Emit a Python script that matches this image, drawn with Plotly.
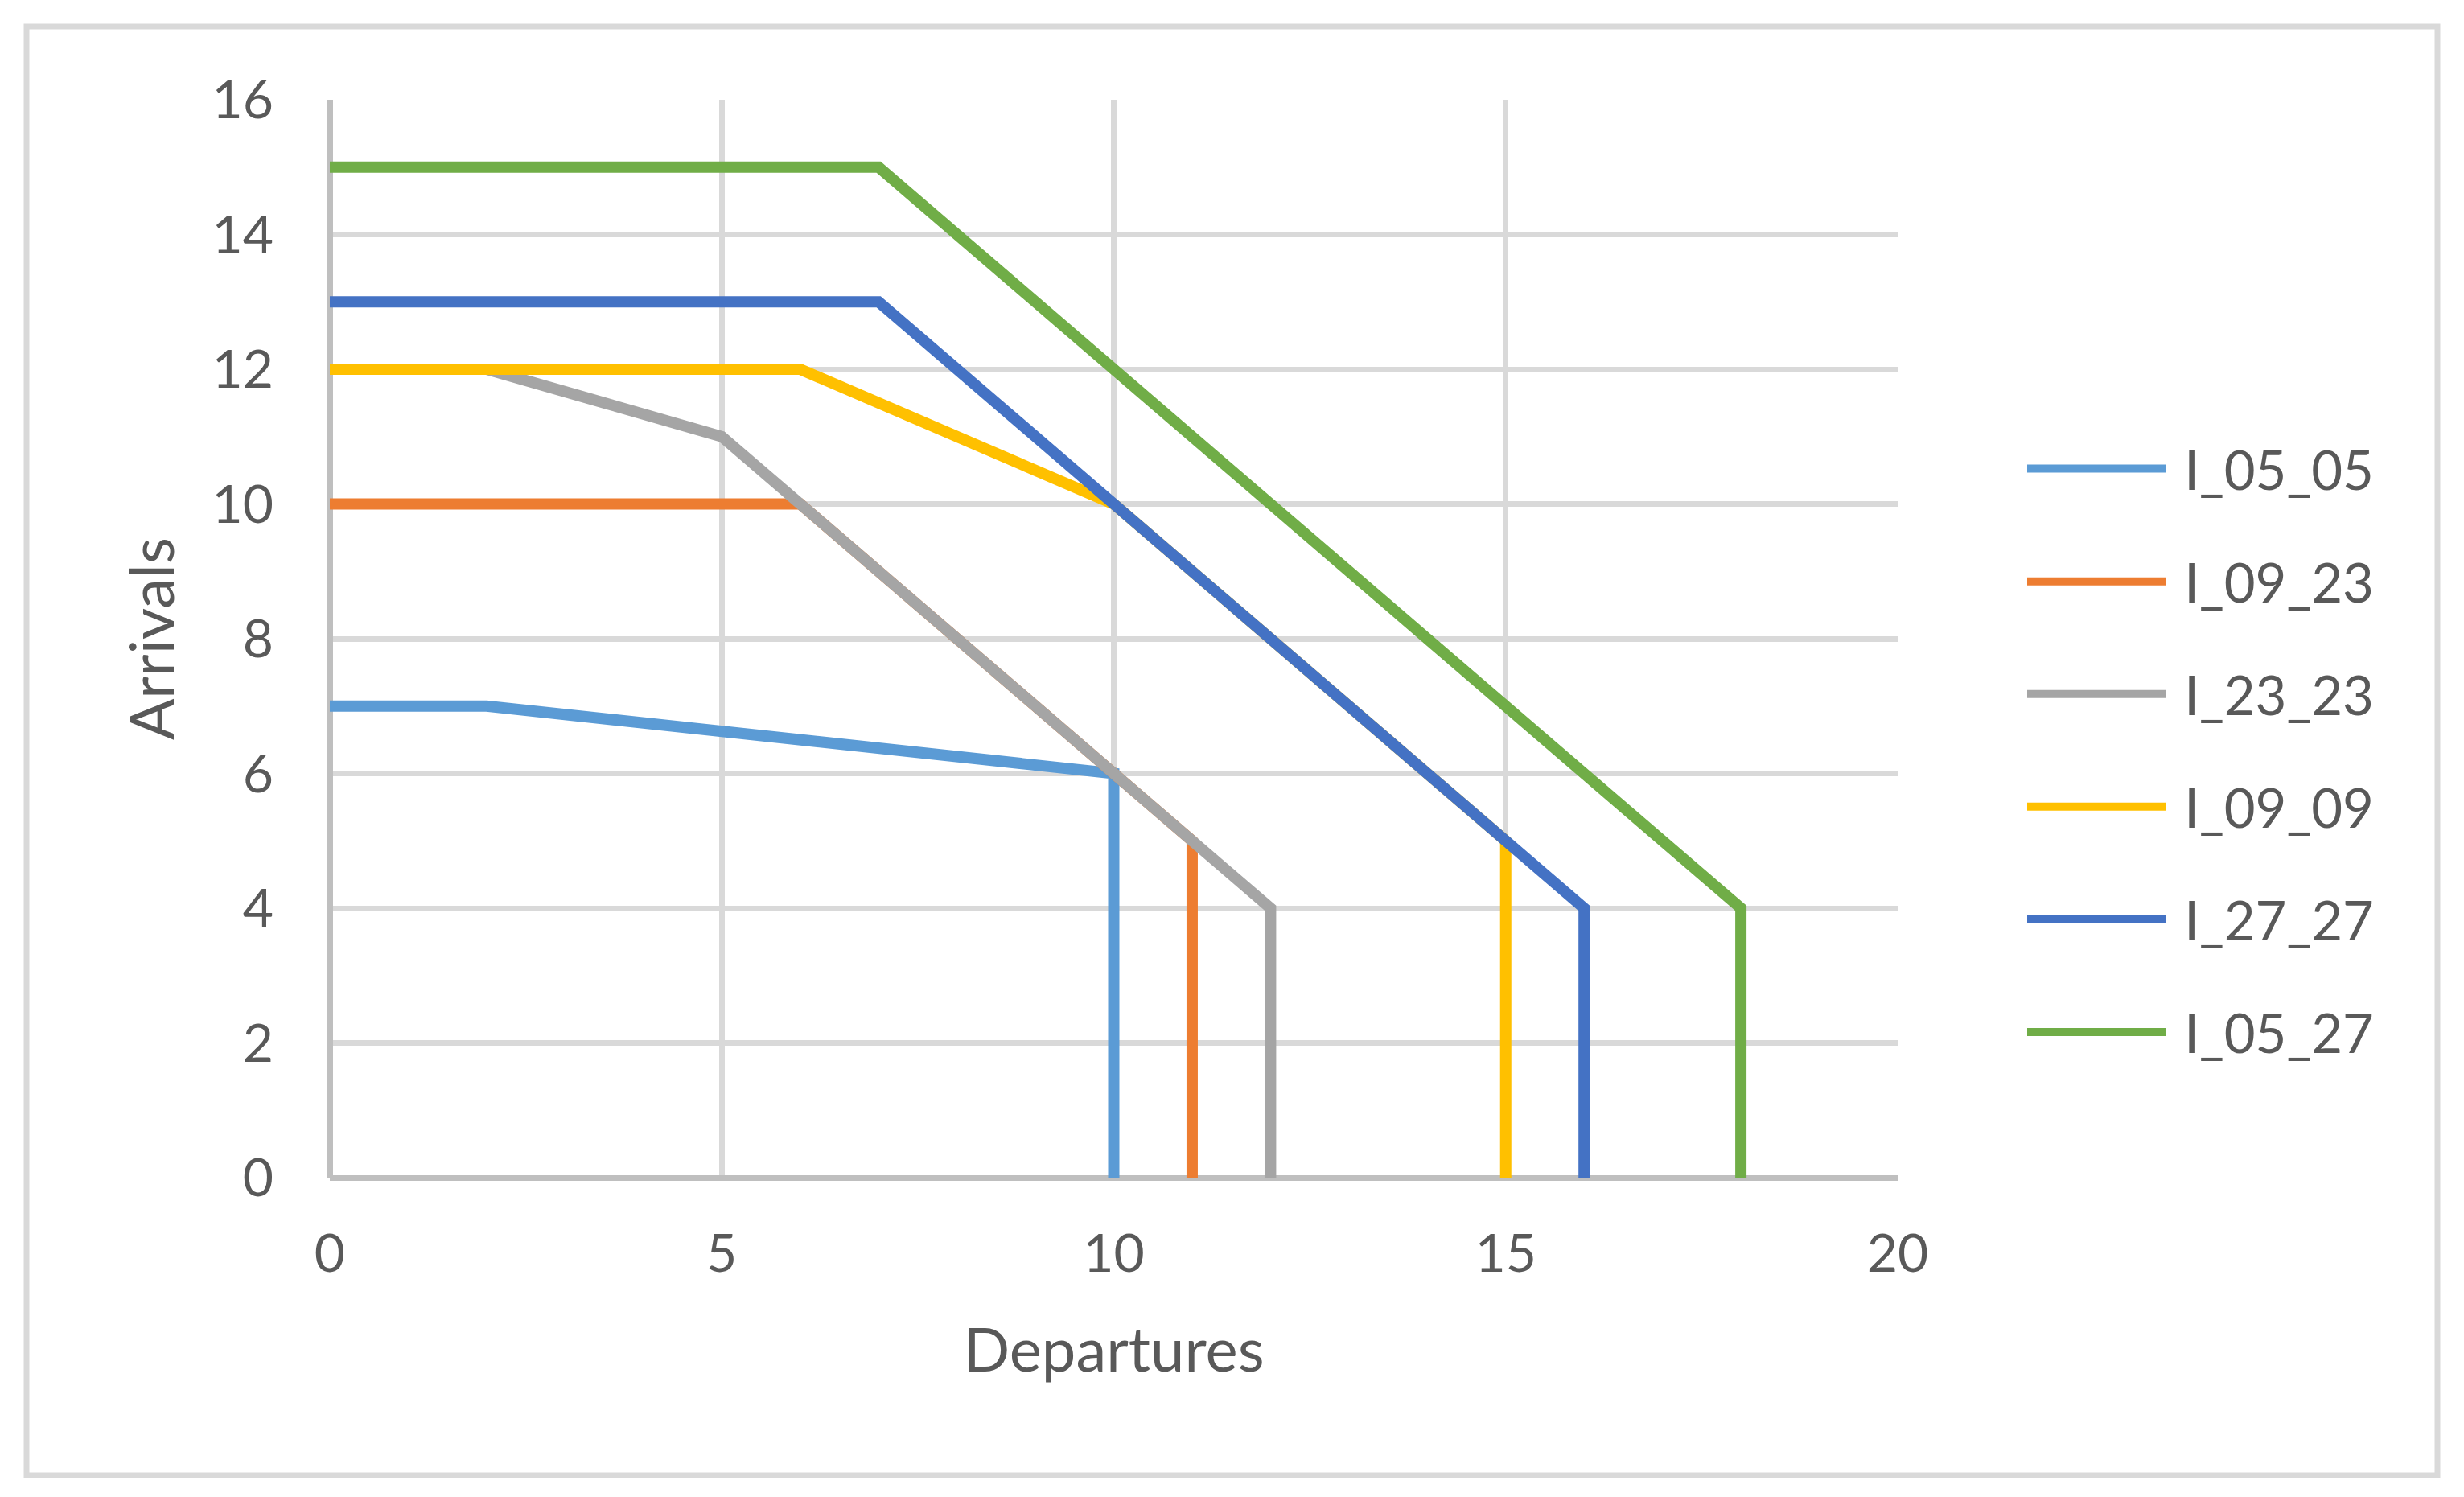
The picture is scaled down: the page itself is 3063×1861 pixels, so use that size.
import plotly.graph_objects as go

# ---- data ----
series_names = ["I_05_05", "I_09_23", "I_23_23", "I_09_09", "I_27_27", "I_05_27"]
departures = [
    [0, 2, 10, 10],
    [0, 6, 11, 11],
    [0, 2, 5, 12, 12],
    [0, 6, 10, 15, 15],
    [0, 7, 16, 16],
    [0, 7, 18, 18],
]
arrivals = [
    [7, 7, 6, 0],
    [10, 10, 5, 0],
    [12, 12, 11, 4, 0],
    [12, 12, 10, 5, 0],
    [13, 13, 4, 0],
    [15, 15, 4, 0],
]
colors = ["#5B9BD5", "#ED7D31", "#A5A5A5", "#FFC000", "#4472C4", "#70AD47"]
x_ticks = [0, 5, 10, 15, 20]
y_ticks = [0, 2, 4, 6, 8, 10, 12, 14, 16]

W, H = 3063, 1861
L, R, T, B = 410, 2359, 124, 1464

fig = go.Figure()
for i, name in enumerate(series_names):
    fig.add_trace(go.Scatter(
        x=departures[i], y=arrivals[i], mode="lines", name="\u00a0" + name,
        line=dict(color=colors[i], width=14),
        legendgroup=name,
    ))

font_family = "Lato"
text_color = "#595959"

def px2paper_x(px):
    return (px - L) / (R - L)

def px2paper_y(py):
    return (B - py) / (B - T)

fig.update_layout(
    width=W, height=H, autosize=False,
    margin=dict(l=L, r=W - R, t=T, b=H - B, pad=0),
    paper_bgcolor="white", plot_bgcolor="white",
    font=dict(family=font_family, color=text_color, size=66),
    xaxis=dict(
        range=[0, 20], tickvals=x_ticks, showgrid=True, gridcolor="#D9D9D9", gridwidth=7,
        showline=False, zeroline=True, zerolinecolor="#BFBFBF", zerolinewidth=7,
        tickfont=dict(size=66, color=text_color), ticklabelstandoff=50,
        title=dict(text="Departures", font=dict(size=76, color=text_color), standoff=57),
    ),
    yaxis=dict(
        range=[0, 16], tickvals=y_ticks, showgrid=True, gridcolor="#D9D9D9", gridwidth=7,
        showline=False, zeroline=True, zerolinecolor="#BFBFBF", zerolinewidth=7,
        tickfont=dict(size=66, color=text_color), ticklabelstandoff=69,
        title=dict(text="Arrivals", font=dict(size=76, color=text_color), standoff=21),
    ),
    legend=dict(
        x=px2paper_x(2515), y=px2paper_y(933), xanchor="left", yanchor="middle",
        font=dict(size=67, color=text_color), itemwidth=173, tracegroupgap=50,
        bgcolor="rgba(0,0,0,0)",
    ),
    showlegend=True,
)

fig.add_shape(
    type="rect", xref="paper", yref="paper",
    x0=px2paper_x(33), x1=px2paper_x(3030), y0=px2paper_y(1834), y1=px2paper_y(33),
    line=dict(color="#D9D9D9", width=7), fillcolor="rgba(0,0,0,0)", layer="below",
)

fig.write_html("out.html", config={"displayModeBar": False},
               post_script="document.body.style.margin='0';")
